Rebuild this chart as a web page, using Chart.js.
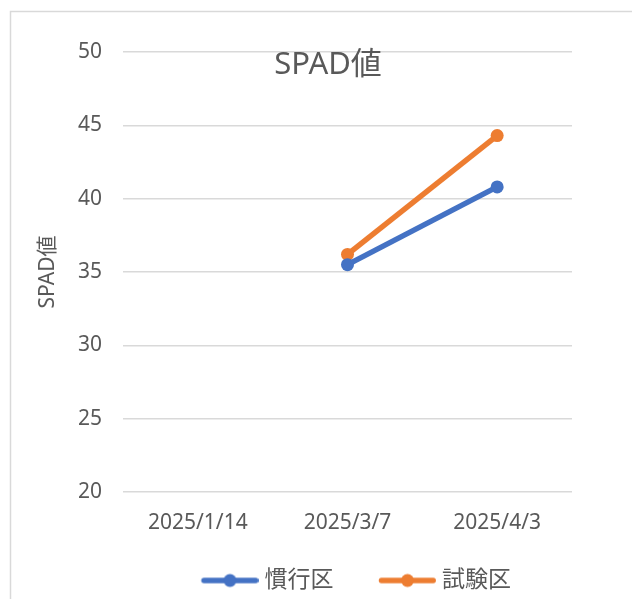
<!DOCTYPE html>
<html>
<head>
<meta charset="utf-8">
<script src="https://cdn.jsdelivr.net/npm/chart.js@4/dist/chart.umd.min.js"></script>
<style>
  html, body { margin: 0; padding: 0; background: #ffffff; }
  #wrap { width: 632px; height: 599px; }
</style>
</head>
<body>
<div id="wrap"><canvas id="c" width="632" height="599"></canvas></div>
<script>
const categories = ['2025/1/14', '2025/3/7', '2025/4/3'];
const seriesNames = ['慣行区', '試験区'];
const kankouValues = [null, 35.5, 40.8];
const shikenValues = [null, 36.2, 44.3];
const chartTitle = 'SPAD値';
const yAxisTitle = 'SPAD値';
const yMin = 20, yMax = 50, yStep = 5;

const BLUE = '#4472C4';
const ORANGE = '#ED7D31';
const TEXT = '#595959';
const GRID = '#D9D9D9';
const FONT = "'Noto Sans', 'Noto Sans CJK JP', sans-serif";

function legendMarker(color) {
  const c = document.createElement('canvas');
  c.width = 80; c.height = 16;
  const g = c.getContext('2d');
  g.strokeStyle = color;
  g.lineWidth = 5.5;
  g.lineCap = 'round';
  g.beginPath();
  g.moveTo(25.5, 8);
  g.lineTo(77.2, 8);
  g.stroke();
  g.fillStyle = color;
  g.beginPath();
  g.arc(51.5, 8, 6.5, 0, Math.PI * 2);
  g.fill();
  return c;
}
const markers = [legendMarker(BLUE), legendMarker(ORANGE)];

const framePlugin = {
  id: 'frame',
  beforeDraw(chart) {
    const ctx = chart.ctx;
    ctx.save();
    ctx.fillStyle = '#ffffff';
    ctx.fillRect(0, 0, chart.width, chart.height);
    ctx.strokeStyle = GRID;
    ctx.lineWidth = 1.5;
    ctx.strokeRect(10.5, 11.5, 800, 800);
    ctx.restore();
  },
  afterDraw(chart) {
    const ctx = chart.ctx;
    ctx.save();
    ctx.fillStyle = TEXT;
    ctx.font = '31px ' + FONT;
    ctx.textAlign = 'center';
    ctx.textBaseline = 'middle';
    ctx.fillText(chartTitle, 328, 65);
    ctx.restore();
  }
};

new Chart(document.getElementById('c'), {
  type: 'line',
  data: {
    labels: categories,
    datasets: [
      {
        label: seriesNames[0],
        data: kankouValues,
        borderColor: BLUE,
        backgroundColor: BLUE,
        borderWidth: 5.5,
        pointRadius: 6.5,
        pointHoverRadius: 6.5,
        pointBorderWidth: 0,
        pointBackgroundColor: BLUE,
        pointStyle: 'circle',
        spanGaps: false,
        tension: 0
      },
      {
        label: seriesNames[1],
        data: shikenValues,
        borderColor: ORANGE,
        backgroundColor: ORANGE,
        borderWidth: 5.5,
        pointRadius: 6.5,
        pointHoverRadius: 6.5,
        pointBorderWidth: 0,
        pointBackgroundColor: ORANGE,
        pointStyle: 'circle',
        spanGaps: false,
        tension: 0
      }
    ]
  },
  options: {
    responsive: false,
    animation: false,
    events: [],
    layout: { padding: { top: 52, left: 10, right: 60, bottom: -3 } },
    plugins: {
      title: { display: false },
      tooltip: { enabled: false },
      legend: {
        display: true,
        position: 'bottom',
        fullSize: false,
        labels: {
          color: TEXT,
          font: { family: FONT, size: 23 },
          usePointStyle: true,
          pointStyleWidth: 69,
          padding: 28,
          generateLabels(chart) {
            return chart.data.datasets.map((ds, i) => ({
              text: ds.label,
              fillStyle: ds.borderColor,
              strokeStyle: ds.borderColor,
              lineWidth: 0,
              pointStyle: markers[i],
              fontColor: TEXT,
              hidden: false,
              datasetIndex: i
            }));
          }
        }
      }
    },
    scales: {
      x: {
        type: 'category',
        offset: true,
        grid: { display: false, drawTicks: false },
        border: { display: false },
        ticks: { color: TEXT, font: { family: FONT, size: 21 }, padding: 18, maxRotation: 0 },
        afterFit(s) { s.height = 49; }
      },
      y: {
        min: yMin,
        max: yMax,
        grid: { color: GRID, lineWidth: 1.5, drawTicks: false },
        border: { display: false },
        ticks: { stepSize: yStep, color: TEXT, font: { family: FONT, size: 21 }, padding: 21 },
        title: {
          display: true,
          text: yAxisTitle,
          color: TEXT,
          font: { family: FONT, size: 21 },
          padding: { top: 25, bottom: 0 }
        },
        afterFit(s) { s.width = 113; }
      }
    }
  },
  plugins: [framePlugin]
});
</script>
</body>
</html>
